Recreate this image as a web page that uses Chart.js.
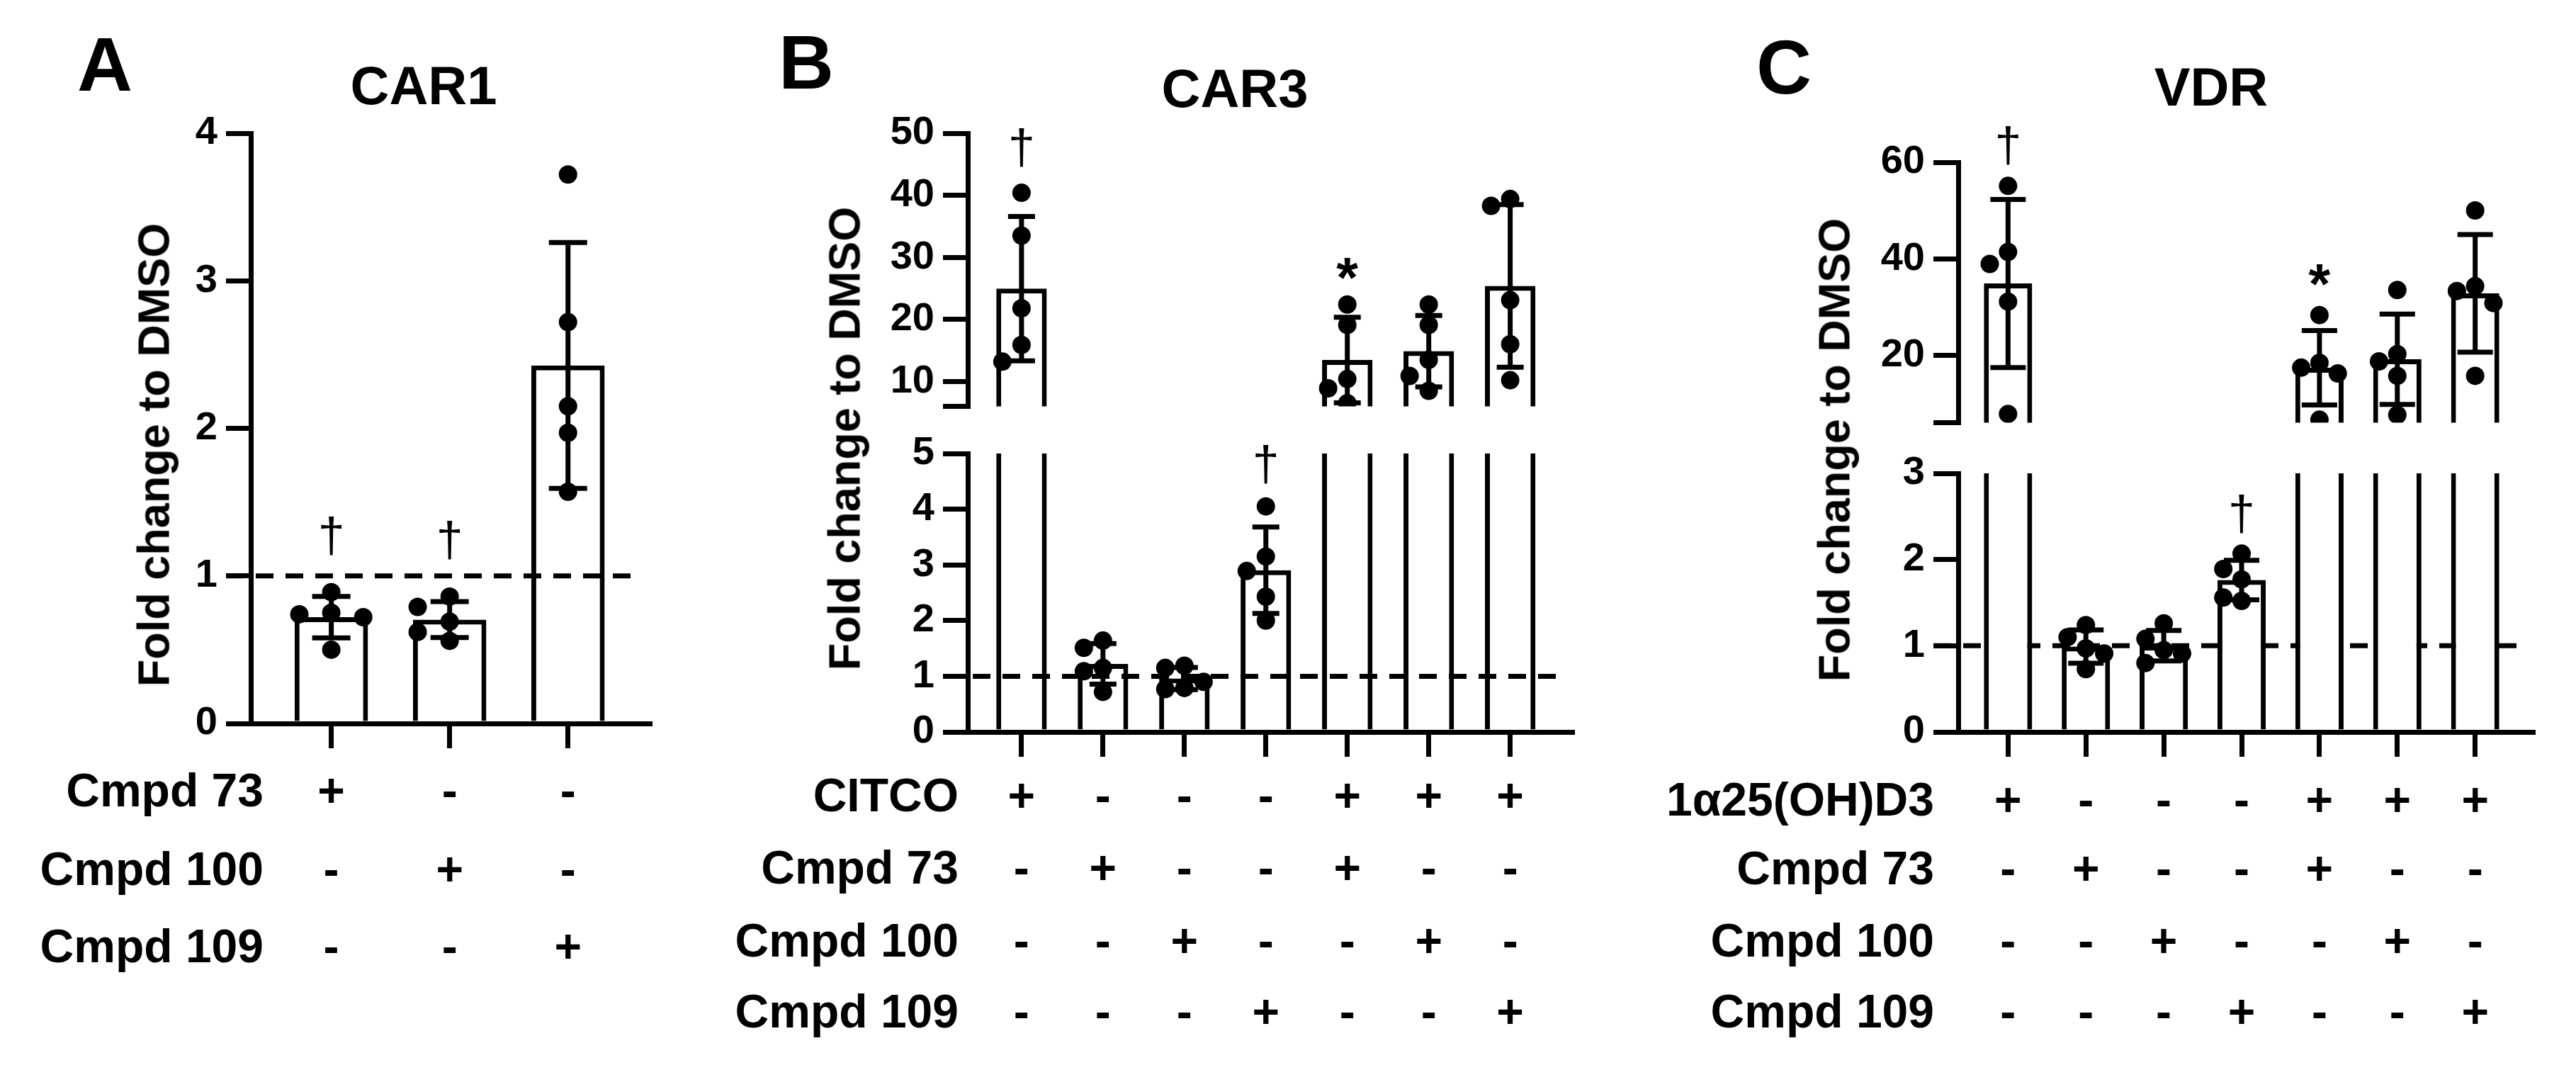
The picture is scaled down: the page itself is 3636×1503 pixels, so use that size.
<!DOCTYPE html>
<html>
<head>
<meta charset="utf-8">
<script src="https://cdn.jsdelivr.net/npm/chart.js@4.4.1/dist/chart.umd.min.js"></script>
<style>
  html, body { margin: 0; padding: 0; background: #fff; }
  body { width: 3636px; height: 1503px; position: relative; overflow: hidden;
         font-family: "Liberation Sans", Arial, sans-serif; font-weight: bold; color: #000; }
  canvas { position: absolute; }
  .txt { position: absolute; white-space: nowrap; line-height: 1; }
</style>
</head>
<body>
<script>
// ---- data ----
const panelLetters = ['A', 'B', 'C'];
const panelTitles = ['CAR1', 'CAR3', 'VDR'];
const yTitle = 'Fold change to DMSO';
const baseline = 1;

// CAR1: individual replicates per treatment
const carOnePoints = [
  [0.89, 0.75, 0.74, 0.72, 0.50],
  [0.86, 0.79, 0.69, 0.62, 0.56],
  [3.72, 2.72, 2.15, 1.97, 1.57]
];
const carOneMarks = ['†', '†', ''];
const carOneTicks = [0, 1, 2, 3, 4];
const carOneRows = ['Cmpd 73', 'Cmpd 100', 'Cmpd 109'];
const carOneSigns = [
  ['+', '-', '-'],
  ['-', '+', '-'],
  ['-', '-', '+']
];

// CAR3
const carThreePoints = [
  [40.4, 33.5, 21.8, 15.9, 13.2],
  [1.64, 1.51, 1.15, 1.09, 0.72],
  [1.19, 1.15, 0.90, 0.79, 0.77],
  [4.05, 3.15, 2.89, 2.43, 2.00],
  [22.4, 19.1, 10.4, 8.9, 6.5],
  [22.4, 19.1, 13.5, 10.9, 8.5],
  [39.4, 38.3, 23.1, 16.0, 10.2]
];
const carThreeMarks = ['†', '', '', '†', '*', '', ''];
const carThreeLowTicks = [0, 1, 2, 3, 4, 5];
const carThreeHighTicks = [10, 20, 30, 40, 50];
const carThreeBreak = 6;
const carThreeRows = ['CITCO', 'Cmpd 73', 'Cmpd 100', 'Cmpd 109'];
const carThreeSigns = [
  ['+', '-', '-', '-', '+', '+', '+'],
  ['-', '+', '-', '-', '+', '-', '-'],
  ['-', '-', '+', '-', '-', '+', '-'],
  ['-', '-', '-', '+', '-', '-', '+']
];

// VDR
const vdrPoints = [
  [55.1, 41.4, 38.9, 31.1, 7.8],
  [1.24, 1.10, 0.97, 0.91, 0.73],
  [1.26, 1.08, 0.95, 0.91, 0.80],
  [2.07, 1.89, 1.77, 1.56, 1.52],
  [28.3, 18.4, 17.4, 16.2, 6.6],
  [33.5, 20.2, 18.7, 15.7, 7.6],
  [50.0, 34.3, 33.3, 30.8, 15.7]
];
const vdrMarks = ['†', '', '', '†', '*', '', ''];
const vdrLowTicks = [0, 1, 2, 3];
const vdrHighTicks = [20, 40, 60];
const vdrBreak = 6;
const vdrRows = ['1α25(OH)D3', 'Cmpd 73', 'Cmpd 100', 'Cmpd 109'];
const vdrSigns = carThreeSigns;

// ---- drawing ----
const FONT = '"Liberation Sans", Arial, sans-serif';
const LINE = 7, TICK = 35, DOT = 13;
const YW = 230, PAD_T = 90, PAD_R = 40, PAD_B = 40, XH = 60;
const MARK_H = { '†': 54, '*': 30 };   // glyph heights in the figure

const mean = a => a.reduce((s, v) => s + v, 0) / a.length;
const sd = a => {
  const m = mean(a);
  return Math.sqrt(a.reduce((s, v) => s + (v - m) ** 2, 0) / (a.length - 1));
};

function addText(t, x, y, size, align, rot) {
  const d = document.createElement('div');
  d.className = 'txt';
  d.textContent = t;
  d.style.fontSize = size + 'px';
  d.style.left = x + 'px';
  d.style.top = y + 'px';
  const tx = align === 'right' ? '-100%' : '-50%';
  d.style.transform = `translate(${tx}, -50%)` + (rot ? ' rotate(-90deg)' : '');
  document.body.appendChild(d);
}

function refLine(chart) {
  const { ctx, chartArea: a, scales: { y } } = chart;
  if (baseline < y.min || baseline > y.max) return;
  const py = y.getPixelForValue(baseline);
  ctx.save();
  ctx.setLineDash([25, 17]);
  ctx.lineWidth = LINE;
  ctx.strokeStyle = '#000';
  ctx.beginPath();
  ctx.moveTo(a.left - TICK, py);
  ctx.lineTo(a.right - 10, py);
  ctx.stroke();
  ctx.restore();
}

function markFont(ctx, m) {
  const weight = m === '*' ? 'bold ' : '';
  ctx.font = weight + '100px ' + FONT;
  const mt = ctx.measureText(m);
  const hgt = (mt.actualBoundingBoxAscent || 70) + (mt.actualBoundingBoxDescent || 0);
  const size = Math.round(100 * MARK_H[m] / hgt);
  ctx.font = weight + size + 'px ' + FONT;
}

function decor(p, stats) {
  return {
    id: 'decor',
    beforeDatasetsDraw(chart) {
      if (p.ref && p.refBehind) refLine(chart);
    },
    afterDatasetsDraw(chart) {
      if (p.ref && !p.refBehind) refLine(chart);
      const { ctx, chartArea: a, scales: { x, y } } = chart;
      // error bars: mean +/- SD
      ctx.save();
      ctx.beginPath();
      ctx.rect(a.left, a.top - 8, a.right - a.left, a.bottom - a.top + 16);
      ctx.clip();
      ctx.strokeStyle = '#000';
      ctx.lineWidth = LINE;
      ctx.beginPath();
      stats.forEach((st, i) => {
        const px = x.getPixelForValue(i);
        const hi = y.getPixelForValue(st.m + st.s);
        const lo = y.getPixelForValue(st.m - st.s);
        ctx.moveTo(px, hi); ctx.lineTo(px, lo);
        ctx.moveTo(px - p.cap, hi); ctx.lineTo(px + p.cap, hi);
        ctx.moveTo(px - p.cap, lo); ctx.lineTo(px + p.cap, lo);
      });
      ctx.stroke();
      ctx.restore();
      // significance marks, bottom of glyph a fixed gap above the highest mark
      ctx.save();
      ctx.fillStyle = '#000';
      ctx.textAlign = 'center';
      ctx.textBaseline = 'alphabetic';
      stats.forEach((st, i) => {
        const m = p.marks[i];
        if (!m) return;
        const top = Math.max(Math.max(...p.points[i]), st.m + st.s);
        if (top < y.min || top > y.max) return;
        markFont(ctx, m);
        const desc = ctx.measureText(m).actualBoundingBoxDescent || 0;
        const gap = m === '*' ? p.starGap : p.markGap;
        ctx.fillText(m, x.getPixelForValue(i), y.getPixelForValue(top) - gap - desc);
      });
      ctx.restore();
    }
  };
}

function drawPanel(p) {
  const a = p.area;
  const w = YW + (a.r - a.l) + PAD_R;
  const h = PAD_T + (a.b - a.t) + (p.xAxis ? XH : PAD_B);
  const left = a.l - YW, top = a.t - PAD_T;
  const cv = document.createElement('canvas');
  cv.width = w; cv.height = h;
  Object.assign(cv.style, { left: left + 'px', top: top + 'px', width: w + 'px', height: h + 'px' });
  document.body.appendChild(cv);

  const stats = p.points.map(v => ({ m: mean(v), s: sd(v) }));
  const grid = { drawOnChartArea: false, drawTicks: true, tickLength: TICK, lineWidth: LINE, color: '#000', offset: false };
  const border = { display: true, color: '#000', width: LINE };

  const chart = new Chart(cv, {
    type: 'bar',
    data: {
      datasets: [
        { type: 'scatter', data: [], pointRadius: DOT, pointHoverRadius: DOT,
          pointBackgroundColor: '#000', pointBorderWidth: 0, order: 0 },
        { type: 'bar', data: stats.map((s, i) => ({ x: i, y: s.m })),
          backgroundColor: '#fff', borderColor: '#000', borderWidth: LINE, borderSkipped: 'start',
          barPercentage: 0.62, categoryPercentage: 1, clip: 0, order: 1 }
      ]
    },
    options: {
      responsive: false,
      animation: false,
      devicePixelRatio: 1,
      events: [],
      layout: { padding: { left: 0, top: PAD_T, right: PAD_R, bottom: p.xAxis ? 0 : PAD_B } },
      plugins: { legend: { display: false }, tooltip: { enabled: false } },
      scales: {
        x: {
          type: 'linear', min: p.xMin, max: p.xMax, offset: false, display: p.xAxis,
          afterFit: s => { if (p.xAxis) s.height = XH; },
          afterBuildTicks: s => { s.ticks = p.points.map((v, i) => ({ value: i })); },
          ticks: { display: false },
          grid, border
        },
        y: {
          type: 'linear', min: p.ticks[0], max: p.ticks[p.ticks.length - 1],
          afterFit: s => { s.width = YW; },
          afterBuildTicks: s => { s.ticks = p.ticks.map(v => ({ value: v })); },
          ticks: {
            color: '#000', padding: 12, autoSkip: false,
            font: { family: FONT, size: 56, weight: 'bold' },
            callback: v => (v === p.breakAt ? '' : String(v))
          },
          grid, border
        }
      }
    },
    plugins: [decor(p, stats)]
  });

  // spread replicate dots sideways so they don't overlap (simple beeswarm)
  const ys = chart.scales.y;
  const pts = [];
  p.points.forEach((vals, i) => {
    const placed = [];
    vals.filter(v => v >= ys.min && v <= ys.max).sort((u, v) => v - u).forEach(v => {
      const py = ys.getPixelForValue(v);
      let k = [0, -1, 1, -2, 2].find(k => !placed.some(q => q.k === k && Math.abs(q.py - py) < 2 * DOT));
      if (k === undefined) k = 0;
      placed.push({ k, py });
      pts.push({ x: i + k * p.step, y: v });
    });
  });
  chart.data.datasets[0].data = pts;
  chart.update('none');
  return { chart, left, top };
}

function drawTable(panel, rows, signs, labelRight, rowYs) {
  const xs = panel.chart.scales.x;
  rows.forEach((r, j) => {
    addText(r, labelRight, rowYs[j], 66, 'right');
    signs[j].forEach((s, i) => addText(s, panel.left + xs.getPixelForValue(i), rowYs[j], 66, 'center'));
  });
}

// Panel A
const pA = drawPanel({
  area: { l: 354, t: 188, r: 917, b: 1021 }, xMin: -0.68, xMax: 2.69,
  ticks: carOneTicks, points: carOnePoints, marks: carOneMarks,
  xAxis: true, ref: true, refBehind: false, step: 0.27, cap: 27, markGap: 52, starGap: 40
});
drawTable(pA, carOneRows, carOneSigns, 372, [1115, 1226, 1335]);

// Panel B (broken axis)
drawPanel({
  area: { l: 1366, t: 188, r: 2219, b: 579 }, xMin: -0.66, xMax: 6.76,
  ticks: [carThreeBreak, ...carThreeHighTicks], breakAt: carThreeBreak,
  points: carThreePoints, marks: carThreeMarks,
  xAxis: false, ref: false, step: 0.235, cap: 19, markGap: 36, starGap: 36
});
const pB = drawPanel({
  area: { l: 1366, t: 640, r: 2219, b: 1033 }, xMin: -0.66, xMax: 6.76,
  ticks: carThreeLowTicks, points: carThreePoints, marks: carThreeMarks,
  xAxis: true, ref: true, refBehind: false, step: 0.235, cap: 19, markGap: 32, starGap: 36
});
drawTable(pB, carThreeRows, carThreeSigns, 1353, [1122, 1224, 1327, 1427]);

// Panel C (broken axis)
drawPanel({
  area: { l: 2764, t: 229, r: 3575, b: 602 }, xMin: -0.64, xMax: 6.74,
  ticks: [vdrBreak, ...vdrHighTicks], breakAt: vdrBreak,
  points: vdrPoints, marks: vdrMarks,
  xAxis: false, ref: false, step: 0.235, cap: 25, markGap: 29, starGap: 42
});
const pC = drawPanel({
  area: { l: 2764, t: 668, r: 3575, b: 1033 }, xMin: -0.64, xMax: 6.74,
  ticks: vdrLowTicks, points: vdrPoints, marks: vdrMarks,
  xAxis: true, ref: true, refBehind: true, step: 0.235, cap: 25, markGap: 28, starGap: 42
});
drawTable(pC, vdrRows, vdrSigns, 2730, [1128, 1225, 1327, 1427]);

// letters, titles, axis titles
const letterPos = [[148, 91], [1138, 88], [2518, 95]];
const titlePos = [[598, 121], [1743, 125], [3121, 123]];
const yTitlePos = [[217, 642], [1192, 619], [2589, 635]];
panelLetters.forEach((t, i) => addText(t, letterPos[i][0], letterPos[i][1], 108, 'center'));
panelTitles.forEach((t, i) => addText(t, titlePos[i][0], titlePos[i][1], 76, 'center'));
yTitlePos.forEach(([x, y]) => addText(yTitle, x, y, 63, 'center', true));
</script>
</body>
</html>
